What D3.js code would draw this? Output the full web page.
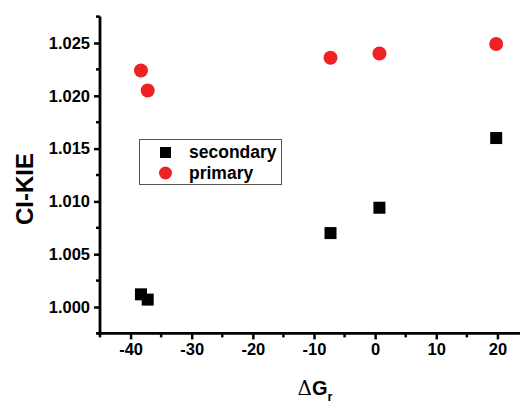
<!DOCTYPE html>
<html>
<head>
<meta charset="utf-8">
<script src="https://cdn.jsdelivr.net/npm/d3@7"></script>
<style>
  html, body { margin: 0; padding: 0; background: #fff; }
  svg { display: block; }
  text { font-family: "Liberation Sans", Arial, sans-serif; font-weight: bold; fill: #000; }
</style>
</head>
<body>
<div id="chart"></div>
<script>
// data
const dG = [-38.3, -37.2, -7.3, 0.7, 19.8];
const secondary = [1.0012, 1.0007, 1.0070, 1.0094, 1.0160];
const primary = [1.0224, 1.0205, 1.0236, 1.0240, 1.0249];
const xTicks = [-40, -30, -20, -10, 0, 10, 20];
const yTicks = [1.000, 1.005, 1.010, 1.015, 1.020, 1.025];
const seriesNames = ["secondary", "primary"];

const width = 520, height = 403;

const svg = d3.select("#chart")
    .append("svg")
    .attr("width", width)
    .attr("height", height);

let x = d3.scaleLinear().domain([-45, 25]).range([100, 528]);
let y = d3.scaleLinear().domain([0.9975, 1.0275]).range([333.4, 16.6]);

// minor ticks
const xMinor = d3.range(-45, 26, 5).filter(v => !xTicks.includes(v));
const yMinor = d3.range(0, 13).map(i => 0.9975 + i * 0.0025)
    .filter(v => !yTicks.some(t => Math.abs(t - v) < 1e-6));

// ########## axes ##########
const xAxis = svg.append("g")
    .attr("transform", `translate(0, ${y(0.9975)})`)
    .call(d3.axisBottom(x).tickValues(xTicks).tickSize(6).tickPadding(4).tickFormat(d => String(d)));

svg.append("g")
    .attr("transform", `translate(0, ${y(0.9975)})`)
    .selectAll("line")
    .data(xMinor)
    .join("line")
        .attr("x1", d => x(d)).attr("x2", d => x(d))
        .attr("y1", 0).attr("y2", 4)
        .attr("stroke", "#000").attr("stroke-width", 2.5);

const yAxis = svg.append("g")
    .attr("transform", `translate(${x(-45)}, 0)`)
    .call(d3.axisLeft(y).tickValues(yTicks).tickSize(6).tickPadding(4).tickFormat(d => d.toFixed(3)));

svg.append("g")
    .attr("transform", `translate(${x(-45)}, 0)`)
    .selectAll("line")
    .data(yMinor)
    .join("line")
        .attr("x1", 0).attr("x2", -4)
        .attr("y1", d => y(d)).attr("y2", d => y(d))
        .attr("stroke", "#000").attr("stroke-width", 2.5);

[xAxis, yAxis].forEach(a => {
    a.select(".domain").attr("stroke-width", 2.8);
    a.selectAll(".tick line").attr("stroke-width", 2.5);
    a.selectAll(".tick text").style("font-size", "16.5px").style("font-family", "'Liberation Sans', Arial, sans-serif").style("font-weight", "bold");
});
// domain lines without end caps
xAxis.select(".domain").attr("d", `M${x(-45) - 3},0H${x(25)}`);
yAxis.select(".domain").attr("d", `M0,${y(1.0275)}V${y(0.9975) + 1.4}`);

// ########## points ##########
svg.append("g")
    .selectAll("rect")
    .data(dG.map((d, i) => [d, secondary[i]]))
    .join("rect")
        .attr("x", d => x(d[0]) - 6)
        .attr("y", d => y(d[1]) - 6)
        .attr("width", 12)
        .attr("height", 12)
        .attr("fill", "#000");

svg.append("g")
    .selectAll("circle")
    .data(dG.map((d, i) => [d, primary[i]]))
    .join("circle")
        .attr("cx", d => x(d[0]))
        .attr("cy", d => y(d[1]))
        .attr("r", 7)
        .attr("fill", "#ee2224");

// ########## legend ##########
const legend = svg.append("g");
legend.append("rect")
    .attr("x", 139.5).attr("y", 139.5)
    .attr("width", 142).attr("height", 45)
    .attr("fill", "#fff")
    .attr("stroke", "#555")
    .attr("stroke-width", 1);

legend.append("rect")
    .attr("x", 160).attr("y", 147)
    .attr("width", 11).attr("height", 11)
    .attr("fill", "#000");
legend.append("circle")
    .attr("cx", 165.5).attr("cy", 173)
    .attr("r", 6.5)
    .attr("fill", "#ee2224");

legend.selectAll("text.lab")
    .data(seriesNames)
    .join("text")
        .attr("class", "lab")
        .attr("x", 189)
        .attr("y", (d, i) => 158 + i * 21)
        .style("font-size", "17.5px")
        .text(d => d);

// ########## titles ##########
svg.append("text")
    .attr("transform", "translate(33, 189) rotate(-90)")
    .attr("text-anchor", "middle")
    .style("font-size", "24px")
    .text("CI-KIE");

const xt = svg.append("text")
    .attr("x", 315)
    .attr("y", 395)
    .attr("text-anchor", "middle")
    .style("font-size", "20px");
xt.append("tspan").style("font-family", "'DejaVu Serif', serif").style("font-weight", "normal").text("\u0394");
xt.append("tspan").text("G");
xt.append("tspan").attr("dy", 6).style("font-size", "13px").text("r");
</script>
</body>
</html>
